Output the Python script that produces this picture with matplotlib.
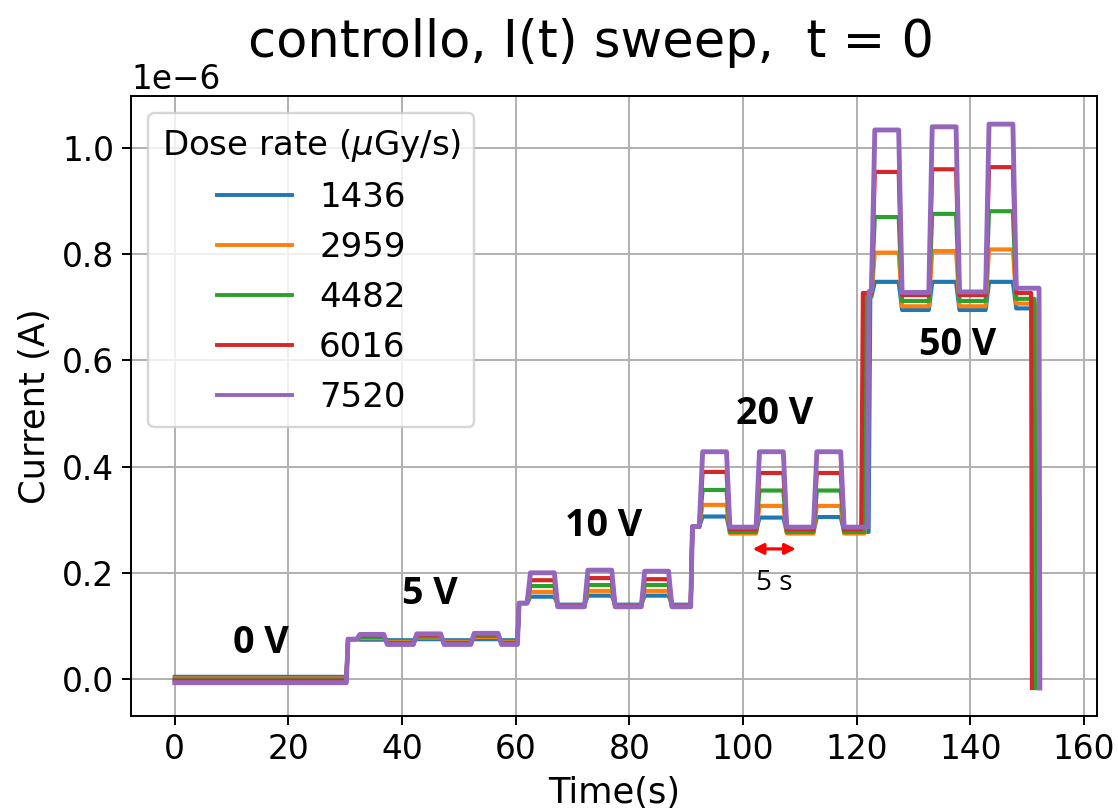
import matplotlib
matplotlib.use("Agg")
import matplotlib.pyplot as plt

# ---------------- data (currents in units of 1e-6 A) ----------------
labels = ["1436", "2959", "4482", "6016", "7520"]
colors = ["#1f77b4", "#ff7f0e", "#2ca02c", "#d62728", "#9467bd"]

level_0V = [0.004, 0.001, -0.001, -0.003, -0.007]

jump_5V = 30.2
jump_10V = 60.3
jump_20V = 90.8
jump_50V = [122.1, 121.4, 121.3, 120.8, 121.9]   # per series
drop_time = [151.6, 151.4, 151.3, 150.7, 152.1]   # per series
drop_level = -0.017

pulse_on_5V = [32.0, 42.0, 52.1]
pulse_on_10V = [62.0, 72.1, 82.1]
pulse_on_20V = [92.3, 102.3, 112.4]
pulse_on_50V = [122.6, 132.7, 142.7]
pulse_width = 4.8
ramp = 0.6

base_5V = [0.075, 0.075, 0.075, 0.075, 0.075]
peak_5V = [[0.074, 0.075, 0.075], [0.077, 0.078, 0.079], [0.079, 0.080, 0.081],
           [0.082, 0.083, 0.084], [0.084, 0.085, 0.086]]
low_5V = [[0.073, 0.073, 0.073], [0.070, 0.070, 0.070], [0.068, 0.068, 0.068],
          [0.067, 0.067, 0.067], [0.065, 0.065, 0.065]]

base_10V = [0.143, 0.143, 0.143, 0.143, 0.143]
peak_10V = [[0.155, 0.157, 0.157], [0.164, 0.166, 0.166], [0.175, 0.177, 0.177],
            [0.186, 0.190, 0.188], [0.200, 0.205, 0.203]]
low_10V = [[0.140, 0.140, 0.140], [0.138, 0.138, 0.138], [0.138, 0.138, 0.138],
           [0.137, 0.137, 0.137], [0.136, 0.136, 0.136]]

base_20V = [0.287, 0.287, 0.287, 0.287, 0.287]
peak_20V = [[0.306, 0.304, 0.305], [0.328, 0.326, 0.326], [0.356, 0.355, 0.355],
            [0.390, 0.388, 0.388], [0.428, 0.428, 0.428]]
low_20V = [[0.277, 0.277, 0.277], [0.274, 0.274, 0.274], [0.277, 0.277, 0.277],
           [0.282, 0.282, 0.282], [0.286, 0.286, 0.286]]

base_50V = [0.720, 0.720, 0.722, 0.727, 0.730]
peak_50V = [[0.748, 0.748, 0.748], [0.803, 0.806, 0.809], [0.870, 0.876, 0.881],
            [0.955, 0.960, 0.964], [1.034, 1.040, 1.045]]
low_50V = [[0.695, 0.695, 0.698], [0.702, 0.702, 0.707], [0.712, 0.712, 0.716],
           [0.723, 0.723, 0.727], [0.728, 0.729, 0.736]]

# ---------------- build polylines ----------------
def build(i):
    t = [0.0, jump_5V]
    y = [level_0V[i], level_0V[i]]
    blocks = [
        (jump_5V, base_5V[i], peak_5V[i], low_5V[i], pulse_on_5V, jump_10V),
        (jump_10V, base_10V[i], peak_10V[i], low_10V[i], pulse_on_10V, jump_20V),
        (jump_20V, base_20V[i], peak_20V[i], low_20V[i], pulse_on_20V, jump_50V[i]),
        (jump_50V[i], base_50V[i], peak_50V[i], low_50V[i], pulse_on_50V, drop_time[i]),
    ]
    for tj, base, peaks, lows, ons, tnext in blocks:
        t.append(tj + 0.3)
        y.append(base)
        prev = base
        for on, pk, lo in zip(ons, peaks, lows):
            t += [max(on, tj + 0.35), on + ramp, on + pulse_width, on + pulse_width + ramp]
            y += [prev, pk, pk, lo]
            prev = lo
        t.append(tnext)
        y.append(prev)
    t.append(drop_time[i] + 0.15)
    y.append(drop_level)
    return t, [v * 1e-6 for v in y]

# ---------------- figure ----------------
W, H = 1118, 810
DPI = 175
FS = 13.5
plt.rcParams["font.size"] = FS
fig = plt.figure(figsize=(W / DPI, H / DPI), dpi=DPI)
ax = fig.add_axes([131 / W, (H - 716) / H, (1097 - 131) / W, (716 - 96) / H])

for i, lab in enumerate(labels):
    t, y = build(i)
    ax.plot(t, y, color=colors[i], lw=1.7 if i < 4 else 2.0, label=lab)

ax.set_xlim(-7.7, 162.3)
ax.set_ylim(-0.0697e-6, 1.098e-6)
ax.grid(True)
ax.tick_params(labelsize=FS)
ax.yaxis.get_offset_text().set_fontsize(FS)
ax.set_xlabel("Time(s)", fontsize=14.5)
ax.set_ylabel("Current (A)", fontsize=14.5)
ax.set_title("controllo, I(t) sweep,  t = 0", fontsize=21, pad=16,
             x=(591 - 131) / (1097 - 131))

leg = ax.legend(loc="upper left", title="Dose rate ($\\mu$Gy/s)", fontsize=14,
                title_fontsize=14, handlelength=2.2, labelspacing=0.5)
for h in leg.get_lines():
    h.set_linewidth(1.6)

ann = [("0 V", 15.1, 0.049), ("5 V", 44.9, 0.141), ("10 V", 75.4, 0.269),
       ("20 V", 105.6, 0.480), ("50 V", 137.7, 0.610)]
for txt, x, yv in ann:
    ax.text(x, yv * 1e-6, txt, ha="center", va="baseline", fontsize=15.5,
            fontweight="bold", family="Open Sans")

ax.annotate("", xy=(109.3, 0.245e-6), xytext=(101.7, 0.245e-6),
            arrowprops=dict(arrowstyle="<|-|>", color="red", lw=1.3,
                            mutation_scale=9, shrinkA=0, shrinkB=0))
ax.text(105.5, 0.168e-6, "5 s", ha="center", va="baseline", fontsize=11.5,
        family="Open Sans")

fig.savefig("out.png", dpi=DPI)
